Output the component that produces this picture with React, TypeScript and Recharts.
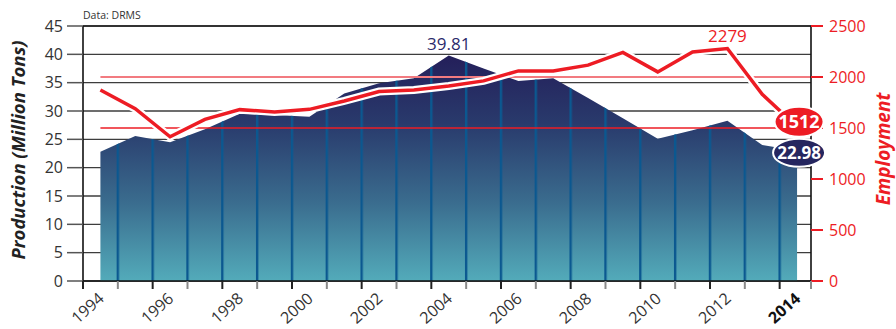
import {
  Area,
  CartesianGrid,
  ComposedChart,
  LabelList,
  Line,
  ReferenceLine,
  XAxis,
  YAxis,
} from "recharts";

// Annual figures, 1994–2014
const years = [
  1994, 1995, 1996, 1997, 1998, 1999, 2000, 2001, 2002, 2003, 2004, 2005, 2006,
  2007, 2008, 2009, 2010, 2011, 2012, 2013, 2014,
];
// million tons
const production = [
  22.8, 25.6, 24.5, 26.8, 29.5, 29.3, 29.0, 33.1, 34.9, 35.8, 39.81, 37.5, 35.3,
  35.8, 32.3, 28.7, 25.1, 26.6, 28.3, 24.0, 22.98,
];
// head count
const employment = [
  1873, 1690, 1414, 1585, 1680, 1657, 1683, 1765, 1857, 1873, 1912, 1962, 2060,
  2060, 2116, 2241, 2050, 2245, 2279, 1831, 1512,
];

const productionTicks = [0, 5, 10, 15, 20, 25, 30, 35, 40, 45];
const employmentTicks = [0, 500, 1000, 1500, 2000, 2500];
const employmentGuides = [
  { value: 2000, color: "#f27b80", width: 2 },
  { value: 1500, color: "#ed1c24", width: 1.4 },
];

const data = years.map((year, i) => ({
  year,
  production: production[i],
  employment: employment[i],
}));

const WIDTH = 896;
const HEIGHT = 329;
const LEFT_AXIS_W = 83;
const RIGHT_AXIS_W = 85;
const X_AXIS_H = 48;
const TOP = 26;

const X_START = years[0] - 0.5;
const X_END = years[years.length - 1] + 0.4;
// year boundaries, plus the right edge of the frame
const xTicks = [...years.map((y) => y - 0.5), X_END];
const yearStep = (WIDTH - LEFT_AXIS_W - RIGHT_AXIS_W) / (X_END - X_START);

const lastIdx = years.length - 1;
const peakProductionIdx = production.indexOf(Math.max(...production));
const peakEmploymentIdx = employment.indexOf(Math.max(...employment));

const RED = "#ed1c24";
const NAVY = "#25265f";
const FONT = "'Open Sans', 'Noto Sans', sans-serif";

function pointOf(props: any) {
  const vb = props.viewBox || {};
  return { x: props.x ?? vb.x, y: props.y ?? vb.y };
}

function YearTick(props: any) {
  const { x, y, index } = props;
  const year = index < years.length && index % 2 === 0 ? years[index] : null;
  const isLast = year === years[lastIdx];
  const tx = x + 22;
  const ty = y + 19;
  return (
    <g>
      <line
        x1={x}
        x2={x}
        y1={y}
        y2={y + 8}
        stroke={year ? "#222" : "#8a8a8a"}
        strokeWidth={2}
      />
      {year && (
        <text
          x={tx}
          y={ty}
          transform={`rotate(-42 ${tx} ${ty})`}
          textAnchor="end"
          fontFamily={FONT}
          fontSize={16}
          fontWeight={isLast ? 700 : 400}
          fill={isLast ? "#111" : "#333"}
        >
          {year}
        </text>
      )}
    </g>
  );
}

function ProductionLabel(props: any) {
  const { x, y } = pointOf(props);
  if (props.index === peakProductionIdx) {
    return (
      <text
        x={x}
        y={y - 11}
        dy="0.35em"
        textAnchor="middle"
        fontFamily={FONT}
        fontSize={17}
        fill="#2b2a6b"
      >
        {props.value}
      </text>
    );
  }
  if (props.index === lastIdx) {
    return (
      <g>
        <ellipse cx={x + 2} cy={y + 2} rx={26} ry={14} fill={NAVY} stroke="#fff" strokeWidth={2} />
        <text
          x={x + 2}
          y={y + 2}
          dy="0.36em"
          textAnchor="middle"
          fontFamily={FONT}
          fontSize={17}
          fontWeight={700}
          fill="#fff"
        >
          {props.value}
        </text>
      </g>
    );
  }
  return null;
}

function EmploymentLabel(props: any) {
  const { x, y } = pointOf(props);
  if (props.index === peakEmploymentIdx) {
    return (
      <text
        x={x}
        y={y - 12}
        dy="0.35em"
        textAnchor="middle"
        fontFamily={FONT}
        fontSize={17}
        fill={RED}
      >
        {props.value}
      </text>
    );
  }
  if (props.index === lastIdx) {
    return (
      <g>
        <ellipse cx={x + 2} cy={y - 5} rx={24.5} ry={15} fill={RED} stroke="#fff" strokeWidth={2} />
        <text
          x={x + 2}
          y={y - 5}
          dy="0.36em"
          textAnchor="middle"
          fontFamily={FONT}
          fontSize={18}
          fontWeight={700}
          fill="#fff"
        >
          {props.value}
        </text>
      </g>
    );
  }
  return null;
}

// vertical axis title; x is the text baseline, y its centre
function axisTitle(x: number, y: number, size: number, color: string, text: string) {
  return () => (
    <text
      x={x}
      y={y}
      transform={`rotate(-90 ${x} ${y})`}
      textAnchor="middle"
      fontFamily={FONT}
      fontSize={size}
      fontWeight={700}
      fontStyle="italic"
      fill={color}
    >
      {text}
    </text>
  );
}

export default function App() {
  return (
    <div style={{ position: "absolute", left: 0, top: 0, width: WIDTH, height: HEIGHT, background: "#fff" }}>
      <div
        style={{
          position: "absolute",
          left: 83,
          top: 8,
          fontFamily: FONT,
          fontSize: 10.5,
          color: "#333",
          lineHeight: "14px",
        }}
      >
        Data: DRMS
      </div>
      <ComposedChart
        width={WIDTH}
        height={HEIGHT}
        data={data}
        margin={{ top: TOP, right: 0, bottom: 0, left: 0 }}
      >
        <defs>
          <linearGradient id="productionFill" x1="0" y1="0" x2="0" y2="1">
            <stop offset="0%" stopColor="#241f5a" />
            <stop offset="30%" stopColor="#293a6c" />
            <stop offset="65%" stopColor="#3a6c8e" />
            <stop offset="100%" stopColor="#53abba" />
          </linearGradient>
          <pattern
            id="yearLines"
            patternUnits="userSpaceOnUse"
            x={LEFT_AXIS_W - 1.2}
            y={0}
            width={yearStep}
            height={HEIGHT}
          >
            <rect x={0} y={0} width={2.4} height={HEIGHT} fill="#0b5890" />
          </pattern>
        </defs>
        <CartesianGrid
          yAxisId="left"
          vertical={false}
          stroke="#3d3d3d"
          strokeWidth={1.3}
        />
        <XAxis
          dataKey="year"
          type="number"
          domain={[X_START, X_END]}
          ticks={xTicks}
          interval={0}
          height={X_AXIS_H}
          tickSize={0}
          tickMargin={0}
          tickLine={false}
          axisLine={{ stroke: "#111", strokeWidth: 1.6 }}
          tick={<YearTick />}
        />
        <YAxis
          yAxisId="left"
          width={LEFT_AXIS_W}
          domain={[0, 45]}
          ticks={productionTicks}
          interval={0}
          tickSize={16}
          tickMargin={4}
          axisLine={{ stroke: "#111", strokeWidth: 1.6 }}
          tickLine={{ stroke: "#555", strokeWidth: 1.5 }}
          tick={{ fill: "#333", fontSize: 16, fontFamily: FONT }}
          label={{ content: axisTitle(25, 150, 18.5, "#222", "Production (Million Tons)") }}
        />
        <YAxis
          yAxisId="right"
          orientation="right"
          width={RIGHT_AXIS_W}
          domain={[0, 2500]}
          ticks={employmentTicks}
          interval={0}
          tickSize={12}
          tickMargin={6}
          axisLine={{ stroke: "#111", strokeWidth: 1.6 }}
          tickLine={{ stroke: RED, strokeWidth: 2 }}
          tick={{ fill: RED, fontSize: 16, fontFamily: FONT, textAnchor: "start" }}
          label={{ content: axisTitle(890, 149, 19, RED, "Employment") }}
        />
        <Area
          yAxisId="left"
          dataKey="production"
          type="linear"
          stroke="none"
          fill="url(#productionFill)"
          fillOpacity={1}
          isAnimationActive={false}
        />
        <Area
          yAxisId="left"
          dataKey="production"
          type="linear"
          stroke="none"
          fill="url(#yearLines)"
          fillOpacity={1}
          isAnimationActive={false}
        >
          <LabelList dataKey="production" content={ProductionLabel} />
        </Area>
        <ReferenceLine yAxisId="left" y={45} stroke="#333" strokeWidth={2} />
        {employmentGuides.map((g) => (
          <ReferenceLine
            key={g.value}
            yAxisId="right"
            segment={[
              { x: years[0], y: g.value },
              { x: X_END, y: g.value },
            ]}
            stroke={g.color}
            strokeWidth={g.width}
          />
        ))}
        <Line
          yAxisId="right"
          dataKey="employment"
          type="linear"
          stroke="#fff"
          strokeWidth={8}
          dot={false}
          activeDot={false}
          isAnimationActive={false}
        />
        <Line
          yAxisId="right"
          dataKey="employment"
          type="linear"
          stroke={RED}
          strokeWidth={3.5}
          dot={false}
          activeDot={false}
          isAnimationActive={false}
        >
          <LabelList dataKey="employment" content={EmploymentLabel} />
        </Line>
      </ComposedChart>
    </div>
  );
}
